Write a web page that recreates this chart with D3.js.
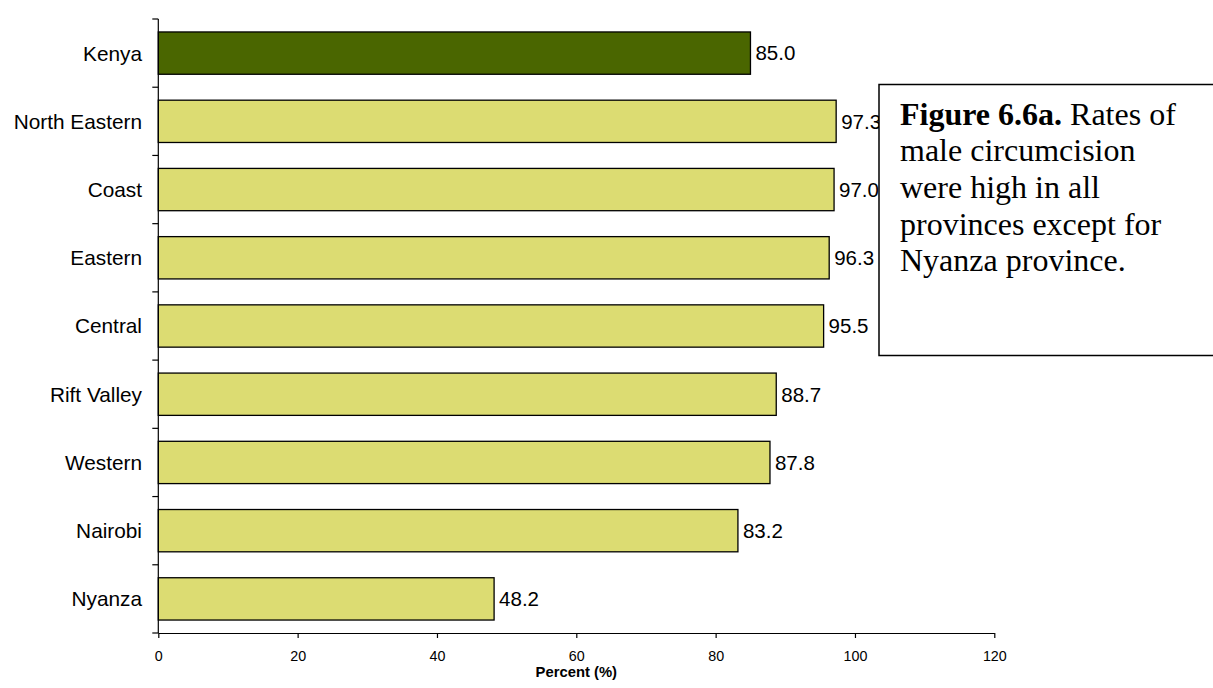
<!DOCTYPE html>
<html><head><meta charset="utf-8">
<script src="https://cdn.jsdelivr.net/npm/d3@7"></script>
<style>body{margin:0;background:#fff}svg{display:block}</style>
</head><body>
<svg id="c" width="1213" height="688"></svg>
<script>
const categories = ["Kenya","North Eastern","Coast","Eastern","Central","Rift Valley","Western","Nairobi","Nyanza"];
const values = [85.0,97.3,97.0,96.3,95.5,88.7,87.8,83.2,48.2];
const highlight = ["Kenya"];
const xTicks = [0,20,40,60,80,100,120];
const xTitle = "Percent (%)";
const noteBold = "Figure 6.6a.";
const noteLines = [" Rates of","male circumcision","were high in all","provinces except for","Nyanza province."];

const svg = d3.select("#c");
const m = {l:158.3, r:994.3, t:19, b:633};
const x = d3.scaleLinear().domain([0,120]).range([m.l,m.r]);
const y = d3.scaleBand().domain(categories).range([m.t,m.b]).paddingInner(0.38).paddingOuter(0.19);

svg.append("g").selectAll("rect").data(categories).join("rect")
  .attr("x", x(0)).attr("y", d=>y(d))
  .attr("width", (d,i)=>x(values[i])-x(0)).attr("height", y.bandwidth())
  .attr("fill", d=>highlight.includes(d)?"#4a6600":"#dcdc72")
  .attr("stroke","#000").attr("stroke-width",1.3);

svg.append("g").selectAll("text").data(categories).join("text")
  .attr("x",(d,i)=>x(values[i])+5).attr("y",d=>y(d)+y.bandwidth()/2)
  .attr("dy","0.36em").attr("font-family","Liberation Sans, Arial").attr("font-size",20.5)
  .text((d,i)=>values[i].toFixed(1));

// y axis
const gy = svg.append("g");
gy.append("line").attr("x1",m.l).attr("x2",m.l).attr("y1",m.t).attr("y2",m.b).attr("stroke","#000").attr("stroke-width",1.2);
const bounds = d3.range(categories.length+1).map(i=>m.t+i*(m.b-m.t)/categories.length);
gy.selectAll("line.t").data(bounds).join("line").attr("class","t")
  .attr("x1",m.l-6).attr("x2",m.l).attr("y1",d=>d).attr("y2",d=>d).attr("stroke","#000").attr("stroke-width",1.2);
gy.selectAll("text").data(categories).join("text")
  .attr("x",142).attr("y",d=>y(d)+y.bandwidth()/2).attr("dy","0.36em")
  .attr("text-anchor","end").attr("font-family","Liberation Sans, Arial").attr("font-size",20.8).text(d=>d);

// x axis
const gx = svg.append("g").attr("transform",`translate(0,${m.b})`)
  .call(d3.axisBottom(x).tickValues(xTicks).tickSize(5).tickSizeOuter(0).tickPadding(13));
gx.select(".domain").attr("stroke-width",1.2);
gx.selectAll(".tick line").attr("stroke-width",1.2);
gx.selectAll("text").attr("font-family","Liberation Sans, Arial").attr("font-size",14.3).attr("fill","#000");
svg.append("text").attr("x",(m.l+m.r)/2).attr("y",677).attr("text-anchor","middle")
  .attr("font-family","Liberation Sans, Arial").attr("font-weight","bold").attr("font-size",14.8).text(xTitle);

// note box
svg.append("rect").attr("x",879).attr("y",84.5).attr("width",345).attr("height",271)
  .attr("fill","#fff").attr("stroke","#000").attr("stroke-width",1.5);
const nt = svg.append("text").attr("font-family","Liberation Serif, Times New Roman").attr("font-size",32).attr("fill","#000");
noteLines.forEach((l,i)=>{
  const t = nt.append("tspan").attr("x",900).attr("y",124.5+i*36.7);
  if(i===0){ t.append("tspan").attr("font-weight","bold").text(noteBold); nt.append("tspan").text(l); }
  else t.text(l);
});
</script>
</body></html>
